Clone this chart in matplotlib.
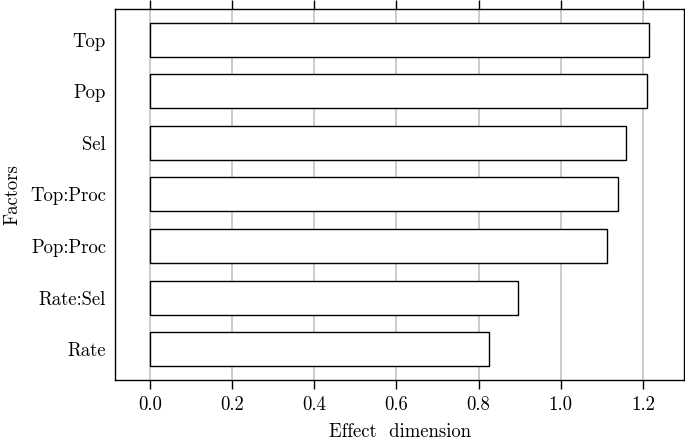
import matplotlib
matplotlib.use("Agg")
import matplotlib.pyplot as plt

plt.rcParams["font.family"] = ["cmr10", "DejaVu Serif"]
plt.rcParams["axes.formatter.use_mathtext"] = True

# ── Data ───────────────────────────────────────────────────────────────────────
factors = ["Top", "Pop", "Sel", "Top:Proc", "Pop:Proc", "Rate:Sel", "Rate"]
effects = [1.215, 1.211, 1.159, 1.140, 1.113, 0.897, 0.826]
xticks  = [0.0, 0.2, 0.4, 0.6, 0.8, 1.0, 1.2]

FS = 13.5

# ── Plot ───────────────────────────────────────────────────────────────────────
fig = plt.figure(figsize=(6.85, 4.41), dpi=100)
ax = fig.add_axes([0.168, 0.138, 0.8305, 0.842])

ypos = list(range(len(factors)))
ax.barh(ypos, effects, height=0.66, color="white", edgecolor="black",
        linewidth=1.0, zorder=3)

ax.set_xlim(-0.085, 1.30)
ax.set_ylim(len(factors) - 0.4, -0.6)
ax.set_yticks(ypos)
ax.set_yticklabels(factors, fontsize=FS)
ax.set_xticks(xticks)
ax.set_xticklabels([f"{v:.1f}" for v in xticks], fontsize=FS)

ax.tick_params(axis="y", length=0, pad=6.5)
ax.tick_params(axis="x", top=True, bottom=True, direction="out",
               length=6.5, width=1.0, pad=5)
ax.xaxis.grid(True, color="#c8c8c8", linewidth=1.3, zorder=0)
ax.set_axisbelow(True)

for sp in ax.spines.values():
    sp.set_linewidth(1.0)

ax.set_xlabel("Effect  dimension", fontsize=FS, labelpad=6.5)
ax.set_ylabel("Factors", fontsize=FS, labelpad=6)

plt.savefig("out.png", dpi=100)
plt.close()
